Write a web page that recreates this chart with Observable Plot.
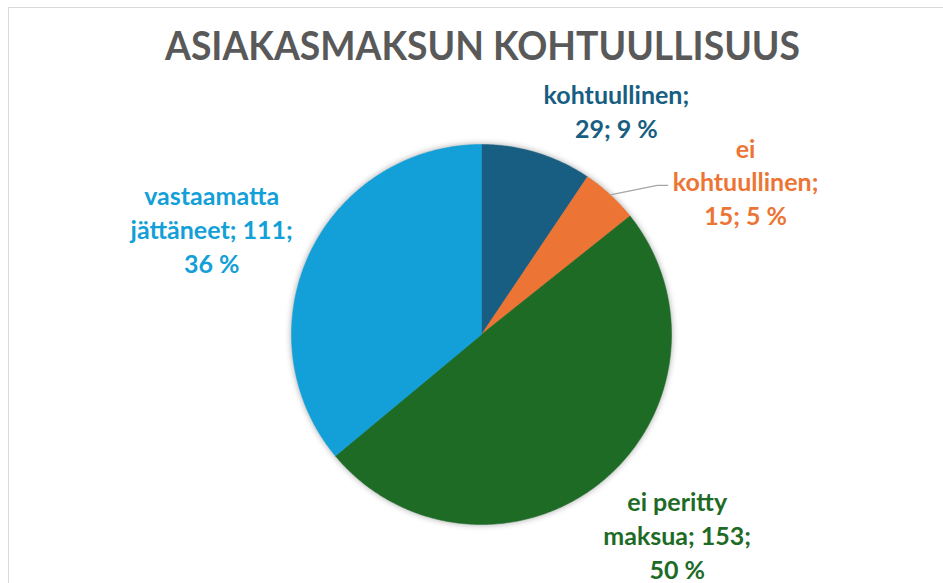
<!DOCTYPE html>
<html>
<head>
<meta charset="utf-8">
<script src="https://cdn.jsdelivr.net/npm/d3@7"></script>
<script src="https://cdn.jsdelivr.net/npm/@observablehq/plot@0.6"></script>
<style>
  body { margin: 0; background: #fff; }
  #wrap { position: relative; width: 943px; height: 583px; overflow: hidden; }
  #border { position: absolute; left: 8px; top: 7px; width: 1200px; height: 1200px; border: 1.5px solid #d9d9d9; pointer-events: none; }
</style>
</head>
<body>
<div id="wrap"><div id="chart"></div><div id="border"></div></div>
<script>
const title = "ASIAKASMAKSUN KOHTUULLISUUS";
const categories = ["kohtuullinen", "ei kohtuullinen", "ei peritty maksua", "vastaamatta jättäneet"];
const labelLines = [
  ["kohtuullinen;"],
  ["ei", "kohtuullinen;"],
  ["ei peritty", "maksua;"],
  ["vastaamatta", "jättäneet;"]
];
const values = [29, 15, 153, 111];
const colors = ["#175e82", "#ec7535", "#1e6b26", "#139fd7"];

// label anchor positions (in pie-radius units, layout only)
const labelX = [0.71, 1.39, 1.03, -1.42];
const labelY = [1.18, 0.81, -1.05, 0.56];

const total = d3.sum(values);
const pie = d3.pie().sort(null).value(d => d)(values);

const slices = [];
pie.forEach((p, i) => {
  const name = categories[i];
  slices.push({name, x: 0, y: 0});
  const steps = Math.max(2, Math.ceil((p.endAngle - p.startAngle) / (Math.PI / 360)));
  for (let k = 0; k <= steps; k++) {
    const a = p.startAngle + (p.endAngle - p.startAngle) * k / steps;
    slices.push({name, x: Math.sin(a), y: Math.cos(a)});
  }
  slices.push({name, x: 0, y: 0});
});

const labels = pie.map((p, i) => {
  const pct = Math.round(values[i] / total * 100);
  const lines = labelLines[i].slice();
  if (i === 2 || i === 3) {
    lines[lines.length - 1] += " " + values[i] + ";";
    lines.push(pct + " %");
  } else {
    lines.push(values[i] + "; " + pct + " %");
  }
  return {name: categories[i], text: lines.join("\n"), x: labelX[i], y: labelY[i]};
});

// leader line for the small slice
const o = pie[1];
const mid = (o.startAngle + o.endAngle) / 2;
const leader = [
  {x: Math.sin(mid), y: Math.cos(mid)},
  {x: 0.925, y: 0.785},
  {x: 0.98, y: 0.785}
];

const chart = Plot.plot({
  width: 943,
  height: 583,
  marginLeft: 291,
  marginRight: 272,
  marginTop: 144,
  marginBottom: 59,
  x: {domain: [-1, 1], axis: null},
  y: {domain: [-1, 1], axis: null},
  color: {domain: categories, range: colors},
  style: {fontFamily: "Lato, 'Open Sans', sans-serif", background: "#fff"},
  marks: [
    Plot.line(slices, {x: "x", y: "y", z: "name", fill: "name", stroke: "name", strokeWidth: 0.5}),
    Plot.line(leader, {x: "x", y: "y", stroke: "#a6a6a6", strokeWidth: 1.3}),
    Plot.text(labels, {x: "x", y: "y", text: "text", fill: "name", fontSize: 25, fontWeight: "bold", lineHeight: 1.35, lineAnchor: "middle", textAnchor: "middle"}),
    Plot.text([title], {frameAnchor: "top", dx: 1, dy: -97, text: d => d, fill: "#595959", fontSize: 40, fontWeight: "bold", textAnchor: "middle", lineAnchor: "middle", className: "ttl"})
  ]
});
document.getElementById("chart").appendChild(chart);
d3.select(chart).select('g[aria-label="line"]').style("filter", "drop-shadow(0px 0px 3px rgba(0,0,0,0.35))");
d3.select(chart).selectAll("g.ttl text").attr("textLength", 635).attr("lengthAdjust", "spacingAndGlyphs");
</script>
</body>
</html>
